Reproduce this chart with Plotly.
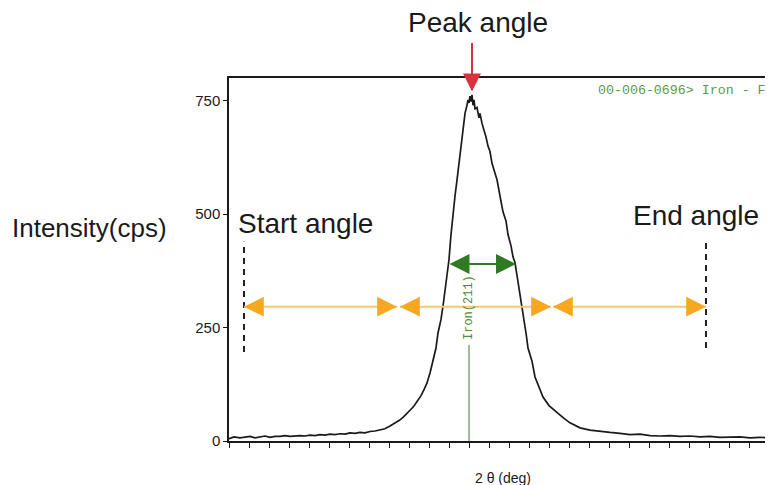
import plotly.graph_objects as go

# ---- data ----
two_theta = [80.00, 80.05, 80.11, 80.16, 80.21, 80.26, 80.31, 80.36, 80.41, 80.46,
             80.51, 80.56, 80.61, 80.66, 80.71, 80.76, 80.81, 80.86, 80.91, 80.96,
             81.01, 81.06, 81.11, 81.16, 81.21, 81.26, 81.31, 81.36, 81.41, 81.46,
             81.51, 81.56, 81.61, 81.65, 81.70, 81.74, 81.78, 81.82, 81.85, 81.88,
             81.92, 81.95, 81.98, 82.01, 82.04, 82.07, 82.09, 82.12, 82.14, 82.17,
             82.20, 82.22, 82.24, 82.26, 82.28, 82.30, 82.32, 82.34, 82.36, 82.38,
             82.39, 82.40, 82.41, 82.42, 82.43, 82.44, 82.45, 82.46, 82.48, 82.50,
             82.51, 82.53, 82.55, 82.57, 82.59, 82.61, 82.63, 82.66, 82.68, 82.71,
             82.74, 82.77, 82.79, 82.82, 82.84, 82.86, 82.89, 82.91, 82.94, 82.97,
             82.99, 83.03, 83.06, 83.10, 83.14, 83.20, 83.28, 83.35, 83.41, 83.46,
             83.51, 83.61, 83.71, 83.81, 83.91, 84.01, 84.11, 84.21, 84.31, 84.41,
             84.51, 84.61, 84.71, 84.81, 84.91, 85.01, 85.11, 85.21, 85.31, 85.44]
intensity = [5, 9, 7, 8, 10, 7, 9, 11, 8, 10,
             10, 12, 10, 11, 12, 11, 13, 12, 14, 13,
             15, 14, 16, 15, 18, 17, 19, 18, 21, 22,
             24, 27, 33, 38, 45, 52, 60, 70, 77, 86,
             100, 113, 128, 150, 178, 205, 238, 268, 297, 345,
             400, 455, 503, 540, 575, 612, 650, 690, 722, 740,
             752, 745, 760, 748, 763, 740, 752, 732, 735, 712,
             722, 700, 686, 670, 650, 638, 612, 590, 576, 540,
             505, 485, 455, 430, 406, 393, 352, 326, 276, 238,
             205, 176, 141, 118, 97, 78, 62, 50, 40, 34,
             29, 24, 21, 19, 17, 14, 15, 12, 11, 12,
             10, 11, 9, 10, 8, 9, 9, 7, 8, 7]

y_ticks = [0, 250, 500, 750]
x_range = [80.00, 85.44]
y_range = [0, 800]

peak_angle = 82.40
start_angle = 80.15
end_angle = 84.77
split_left = 81.695
split_right = 83.23
fwhm_left, fwhm_right, fwhm_level = 82.19, 82.87, 390
range_level = 296

# ---- figure geometry (page body adds an 8px offset) ----
OFF = 8
W, H = 773, 485
L, R, T, B = 221, 8, 70, 52
pw, ph = W - L - R, H - T - B


def px(x):
    return (x - OFF - L) / pw


def py(y):
    return (H - B - (y - OFF)) / ph


fig = go.Figure()
fig.add_trace(go.Scatter(x=two_theta, y=intensity, mode="lines",
                         line=dict(color="#1a1a1a", width=1.7),
                         hoverinfo="skip", showlegend=False))

orange_line = "#f7c772"
orange_head = "#f6a920"
segments = [(start_angle, split_left - 0.015), (split_left + 0.015, split_right - 0.01),
            (split_right + 0.01, end_angle)]

shapes = []
for xv, y0, y1 in [(start_angle, 196, 439), (end_angle, 205, 443)]:
    shapes.append(dict(type="line", xref="x", yref="y", x0=xv, x1=xv, y0=y0, y1=y1,
                       line=dict(color="#222222", width=2, dash="6px,5px")))
shapes.append(dict(type="line", xref="x", yref="y", x0=peak_angle, x1=peak_angle,
                   y0=0, y1=212, line=dict(color="#3d7a32", width=1)))
for a, b in segments:
    shapes.append(dict(type="line", xref="x", yref="y", x0=a, x1=b, y0=range_level,
                       y1=range_level, line=dict(color=orange_line, width=2)))
fig.update_layout(shapes=shapes)

ann = []
# orange arrowheads (short arrows so only the heads show over the pale line)
for a, b in segments:
    ann.append(dict(x=a, y=range_level, xref="x", yref="y", ax=12, ay=0, text="",
                    showarrow=True, arrowhead=2, arrowsize=2.2, arrowwidth=1.8,
                    arrowcolor=orange_head))
    ann.append(dict(x=b, y=range_level, xref="x", yref="y", ax=-12, ay=0, text="",
                    showarrow=True, arrowhead=2, arrowsize=2.2, arrowwidth=1.8,
                    arrowcolor=orange_head))
ann.append(dict(x=fwhm_right, y=fwhm_level, ax=fwhm_left, ay=fwhm_level, xref="x", yref="y",
                axref="x", ayref="y", text="", showarrow=True, arrowhead=2,
                arrowside="end+start", arrowsize=2.0, arrowwidth=2, arrowcolor="#2f7a22"))
ann.append(dict(x=82.43, y=770, xref="x", yref="y", ax=0, ay=-50, text="",
                showarrow=True, arrowhead=2, arrowsize=1.8, arrowwidth=2,
                arrowcolor="#d8323f"))

sans = "Liberation Sans, Arial, sans-serif"
mono = "Liberation Mono, DejaVu Sans Mono, monospace"


def label(x, y, text, size, color="#1a1a1a", family=sans, xanchor="center", **kw):
    return dict(x=px(x), y=py(y), xref="paper", yref="paper", text=text,
                showarrow=False, xanchor=xanchor, yanchor="middle",
                font=dict(family=family, size=size, color=color), **kw)


ann.append(label(478, 22, "Peak angle", 28))
ann.append(label(305, 223, "Start angle", 28))
ann.append(label(696, 215, "End angle", 28))
ann.append(label(89, 228, "Intensity(cps)", 26))
ann.append(label(596, 90, "00-006-0696> Iron - Fe", 13.3, color="#5b9a48",
                 family=mono, xanchor="left"))
ann.append(dict(x=peak_angle, y=py(308), xref="x", yref="paper", text="Iron(211)",
                textangle=-90, showarrow=False, xanchor="center", yanchor="middle",
                font=dict(family=mono, size=12, color="#4f8d3e")))
ann.append(label(503, 478, "2 θ (deg)", 14))
fig.update_layout(annotations=ann)

fig.update_xaxes(range=x_range, showline=True, linecolor="#1a1a1a", linewidth=1.5,
                 mirror=True, ticks="outside", ticklen=5, tickcolor="#1a1a1a",
                 tick0=80.0, dtick=0.2, showticklabels=False, showgrid=False,
                 zeroline=False)
fig.update_yaxes(range=y_range, showline=True, linecolor="#1a1a1a", linewidth=1.5,
                 ticks="outside", ticklen=4, tickcolor="#1a1a1a", tickvals=y_ticks,
                 tickfont=dict(family=sans, size=15, color="#1a1a1a"),
                 showgrid=False, zeroline=False)

fig.update_layout(width=W, height=H, margin=dict(l=L, r=R, t=T, b=B, pad=0),
                  plot_bgcolor="white", paper_bgcolor="white")

fig.write_html("out.html")
